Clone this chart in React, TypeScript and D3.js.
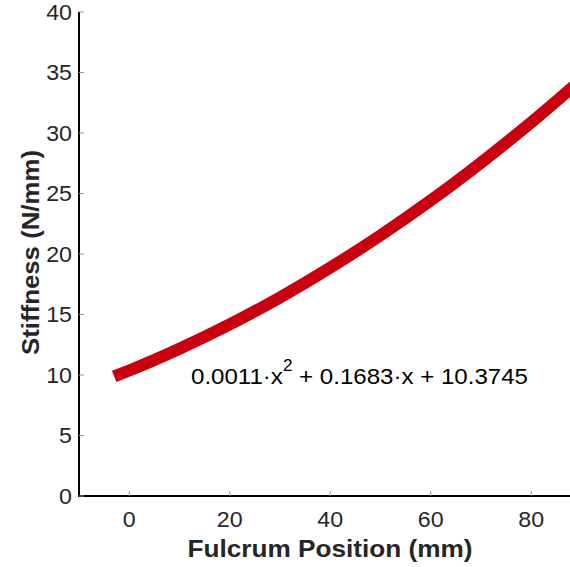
import React from "react";
import * as d3 from "d3";

const xTicks = [0, 20, 40, 60, 80];
const yTicks = [0, 5, 10, 15, 20, 25, 30, 35, 40];
const fitX = [-3, 0, 10, 20, 30, 40, 50, 60, 70, 80, 90];
const fitY = [9.88, 10.37, 12.17, 14.18, 16.41, 18.87, 21.54, 24.43, 27.55, 30.88, 34.43];
const equation = "0.0011·x";
const equationRest = " + 0.1683·x + 10.3745";

export default function App() {
  const W = 570, H = 567;
  const x = d3.scaleLinear().domain([-10, 90]).range([79, 581.5]);
  const y = d3.scaleLinear().domain([0, 40]).range([496, 12]);
  const pts = fitX.map((v, i) => [v, fitY[i]] as [number, number]);
  const line = d3.line<[number, number]>().x(d => x(d[0])).y(d => y(d[1])).curve(d3.curveMonotoneX);
  const font = "'Liberation Sans', Arial, sans-serif";
  const txt = "#262626";
  return (
    <svg width={W} height={H} style={{ position: "absolute", left: 0, top: 0 }} fontFamily={font}>
      <rect width={W} height={H} fill="white" />
      <path d={line(pts) || ""} fill="none" stroke="#c8000f" strokeWidth={12} strokeLinecap="butt" />
      <line x1={x(-10)} x2={x(-10)} y1={y(40)} y2={y(0) + 1} stroke="#000" strokeWidth={2} />
      <line x1={x(-10) - 1} x2={x(90)} y1={y(0)} y2={y(0)} stroke="#000" strokeWidth={2} />
      {yTicks.map(t => (
        <g key={"y" + t}>
          <line x1={x(-10)} x2={x(-10) + 5} y1={y(t)} y2={y(t)} stroke="#999" strokeWidth={1} />
          <g transform={`translate(72,${y(t)}) scale(1.08,1)`}>
            <text dy="0.36em" textAnchor="end" fontSize={21.5} fill={txt}>{t}</text>
          </g>
        </g>
      ))}
      {xTicks.map(t => (
        <g key={"x" + t}>
          <line x1={x(t)} x2={x(t)} y1={y(0)} y2={y(0) - 5} stroke="#999" strokeWidth={1} />
          <g transform={`translate(${x(t)},527) scale(1.08,1)`}>
            <text textAnchor="middle" fontSize={21.5} fill={txt}>{t}</text>
          </g>
        </g>
      ))}
      <text x={330} y={557} textAnchor="middle" fontSize={23} fontWeight="bold" fill={txt}
        textLength={285} lengthAdjust="spacingAndGlyphs">Fulcrum Position (mm)</text>
      <text transform={`translate(39,252.5) rotate(-90)`} textAnchor="middle" fontSize={23} fontWeight="bold" fill={txt}
        textLength={205} lengthAdjust="spacingAndGlyphs">Stiffness (N/mm)</text>
      <g transform="translate(191,384) scale(1.07,1)">
        <text fontSize={22.5} fill="#000">
          {equation}
          <tspan fontSize={16} dy={-13}>2</tspan>
          <tspan dy={13}>{equationRest}</tspan>
        </text>
      </g>
    </svg>
  );
}
